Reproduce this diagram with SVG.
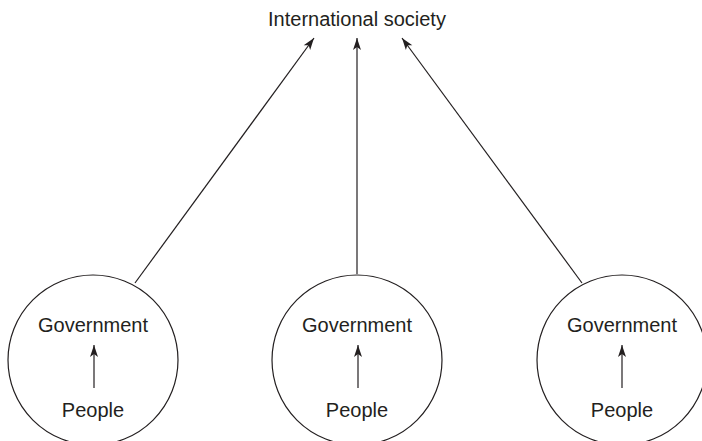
<svg xmlns="http://www.w3.org/2000/svg" width="702" height="441" viewBox="0 0 702 441">
<style>
text{font-family:"Liberation Sans",Arial,sans-serif;font-size:20px;fill:#231f20;text-anchor:middle}
.c{fill:none;stroke:#231f20;stroke-width:1.2}
.l{stroke:#231f20;stroke-width:1.2;fill:none;marker-end:url(#ah)}
</style>
<defs>
<marker id="ah" markerUnits="userSpaceOnUse" viewBox="-13 -5 14 10" refX="0" refY="0" markerWidth="14" markerHeight="10" orient="auto">
<path d="M0,0 L-12,-4 L-9,0 L-12,4 Z" fill="#231f20"/>
</marker>
</defs>
<rect width="702" height="441" fill="#fff"/>
<g id="society"><text x="357" y="26">International society</text></g>
<g id="state1">
<circle class="c" cx="93" cy="360" r="85"/>
<text x="93" y="332">Government</text>
<text x="93" y="417">People</text>
</g>
<g id="state2">
<circle class="c" cx="357" cy="360" r="85"/>
<text x="357" y="332">Government</text>
<text x="357" y="417">People</text>
</g>
<g id="state3">
<circle class="c" cx="622" cy="360" r="85"/>
<text x="622" y="332">Government</text>
<text x="622" y="417">People</text>
</g>
<g id="connectors">
<line class="l" x1="94" y1="388" x2="94" y2="345"/>
<line class="l" x1="358" y1="388" x2="358" y2="345"/>
<line class="l" x1="622" y1="388" x2="622" y2="345"/>
<line class="l" x1="135" y1="283" x2="314" y2="38"/>
<line class="l" x1="357" y1="274" x2="357" y2="38"/>
<line class="l" x1="582" y1="283" x2="402" y2="38"/>
</g>
</svg>
